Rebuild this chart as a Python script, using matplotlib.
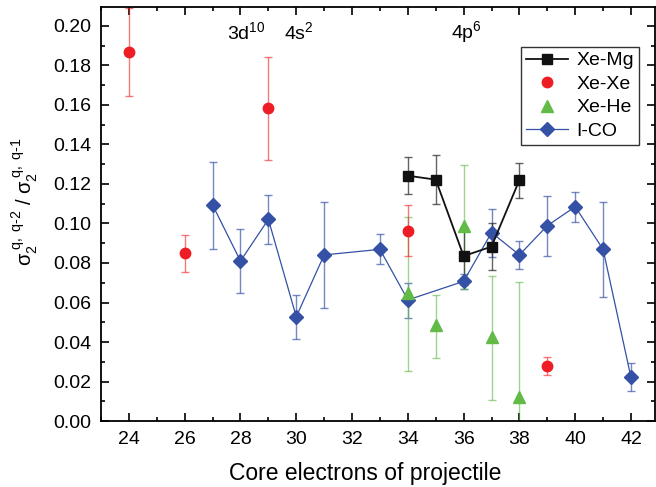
import matplotlib.pyplot as plt
from matplotlib.ticker import MultipleLocator

plt.rcParams['font.family'] = ['Liberation Sans', 'DejaVu Sans']
plt.rcParams['mathtext.fontset'] = 'custom'
plt.rcParams['mathtext.rm'] = 'Liberation Sans'
plt.rcParams['mathtext.it'] = 'Liberation Sans'

# Xe-Mg
mg_x = [34, 35, 36, 37, 38]
mg_y = [0.1242, 0.1222, 0.0835, 0.0883, 0.1220]
mg_lo = [0.1149, 0.1099, 0.0690, 0.0763, 0.1129]
mg_hi = [0.1335, 0.1345, 0.0980, 0.1003, 0.1308]

# Xe-Xe
xe_x = [24, 26, 29, 34, 39]
xe_y = [0.1867, 0.0851, 0.1583, 0.0964, 0.0278]
xe_lo = [0.1644, 0.0754, 0.1322, 0.0834, 0.0235]
xe_hi = [0.2090, 0.0942, 0.1843, 0.1092, 0.0322]

# Xe-He
he_x = [34, 35, 36, 37, 38]
he_y = [0.0647, 0.0486, 0.0987, 0.0427, 0.0123]
he_lo = [0.0252, 0.0319, 0.0667, 0.0106, -0.0460]
he_hi = [0.1034, 0.0640, 0.1298, 0.0736, 0.0705]

# I-CO
co_x = [27, 28, 29, 30, 31, 33, 34, 36, 37, 38, 39, 40, 41, 42]
co_y = [0.1094, 0.0810, 0.1021, 0.0528, 0.0841, 0.0869, 0.0613, 0.0707,
        0.0954, 0.0841, 0.0989, 0.1085, 0.0869, 0.0221]
co_lo = [0.0871, 0.0650, 0.0895, 0.0415, 0.0574, 0.0793, 0.0520, 0.0667,
         0.0829, 0.0770, 0.0837, 0.1009, 0.0629, 0.0153]
co_hi = [0.1313, 0.0972, 0.1143, 0.0636, 0.1107, 0.0947, 0.0700, 0.0743,
         0.1071, 0.0913, 0.1141, 0.1161, 0.1110, 0.0292]


def yerr(y, lo, hi):
    return [[a - b for a, b in zip(y, lo)], [b - a for a, b in zip(y, hi)]]


fig = plt.figure(figsize=(6.56, 4.87), dpi=100)
ax = fig.add_axes([0.154, 0.1355, 0.844, 0.8505])

ax.errorbar(co_x, co_y, yerr=yerr(co_y, co_lo, co_hi), fmt='none',
            ecolor='#3a56a8', alpha=0.7, elinewidth=1, capsize=3, capthick=1)
ax.errorbar(he_x, he_y, yerr=yerr(he_y, he_lo, he_hi), fmt='none',
            ecolor='#5cb946', alpha=0.6, elinewidth=1, capsize=3, capthick=1)
ax.errorbar(xe_x, xe_y, yerr=yerr(xe_y, xe_lo, xe_hi), fmt='none',
            ecolor='#ee2222', alpha=0.6, elinewidth=1, capsize=3, capthick=1)
ax.errorbar(mg_x, mg_y, yerr=yerr(mg_y, mg_lo, mg_hi), fmt='none',
            ecolor='#222222', alpha=0.7, elinewidth=1, capsize=3, capthick=1)

ax.plot(mg_x, mg_y, color='#111111', lw=1.3, marker='s', ms=7,
        label='Xe-Mg', zorder=5)
ax.plot(xe_x, xe_y, ls='none', color='#ee1c24', marker='o', ms=7.5,
        label='Xe-Xe', zorder=5)
ax.plot(he_x, he_y, ls='none', color='#62bb46', marker='^', ms=8,
        label='Xe-He', zorder=5)
ax.plot(co_x, co_y, color='#3451a6', lw=0.9, marker='D', ms=7,
        label='I-CO', zorder=4)

ax.text(28.2, 0.197, '3d$^{10}$', fontsize=14, ha='center', va='center')
ax.text(30.1, 0.197, '4s$^{2}$', fontsize=14, ha='center', va='center')
ax.text(36.1, 0.197, '4p$^{6}$', fontsize=14, ha='center', va='center')

ax.set_xlim(23, 42.85)
ax.set_ylim(0, 0.2097)
ax.xaxis.set_major_locator(MultipleLocator(2))
ax.xaxis.set_minor_locator(MultipleLocator(1))
ax.yaxis.set_major_locator(MultipleLocator(0.02))
ax.yaxis.set_minor_locator(MultipleLocator(0.01))
ax.yaxis.set_major_formatter(plt.FormatStrFormatter('%.2f'))
ax.tick_params(which='both', direction='in', top=True, right=True,
               labelsize=14, width=1.2)
ax.tick_params(which='major', length=6, pad=7)
ax.tick_params(which='minor', length=3)
for s in ax.spines.values():
    s.set_linewidth(1.3)

ax.set_xlabel('Core electrons of projectile', fontsize=16.5)
ax.xaxis.set_label_coords(0.477, -0.098)
ax.set_ylabel('$\\mathrm{σ_2^{\\,\\,q,\\ q\\text{-}2}}$ / '
              '$\\mathrm{σ_2^{\\,\\,q,\\ q\\text{-}1}}$',
              fontsize=14.5)
ax.yaxis.set_label_coords(-0.11, 0.53)

leg = ax.legend(loc='upper right', bbox_to_anchor=(0.971, 0.903),
                fontsize=14, frameon=True, fancybox=False, edgecolor='black',
                borderpad=0.25, labelspacing=0.3, handlelength=2.2,
                handletextpad=0.4, borderaxespad=0)
leg.get_frame().set_linewidth(1.0)

fig.savefig('out.png', dpi=100)
